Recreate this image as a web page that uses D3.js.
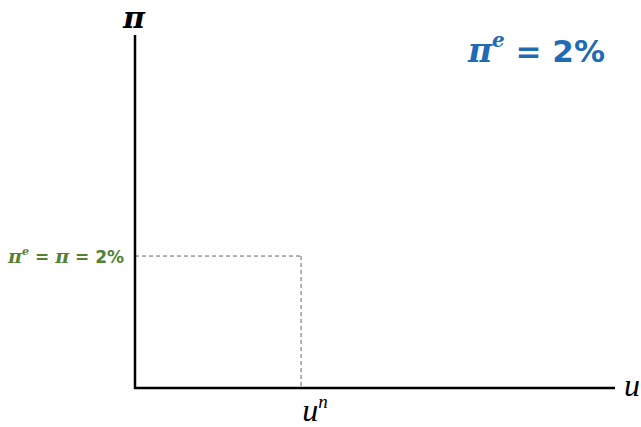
<!DOCTYPE html>
<html>
<head>
<meta charset="utf-8">
<script src="https://cdn.jsdelivr.net/npm/d3@7"></script>
<style>
body { margin: 0; background: #fff; }
</style>
</head>
<body>
<script>
// values
var uDomain = [0, 14.45];
var piDomain = [0, 5.35];
var naturalRate = [5];
var expectedInflation = [2];

var margin = {top: 35, right: 26, bottom: 39, left: 135};
var width = 641 - margin.left - margin.right;
var height = 427 - margin.top - margin.bottom;

var xScale = d3.scaleLinear().domain(uDomain).range([0, width]);
var yScale = d3.scaleLinear().domain(piDomain).range([height, 0]);

var svg = d3.select("body").append("svg")
.attr("width", 641)
.attr("height", 427);

var g = svg.append("g")
.attr("transform", "translate(" + margin.left + "," + margin.top + ")");

var mathFont = "'DejaVu Serif', serif";
var labelFont = "'Liberation Serif', 'DejaVu Serif', serif";

// dashed guides
g.append("line")
.attr("x1", xScale(0)).attr("x2", xScale(naturalRate[0]))
.attr("y1", yScale(expectedInflation[0])).attr("y2", yScale(expectedInflation[0]))
.attr("stroke", "#666").attr("stroke-width", 1).attr("stroke-dasharray", "4,3");
g.append("line")
.attr("x1", xScale(naturalRate[0])).attr("x2", xScale(naturalRate[0]))
.attr("y1", yScale(expectedInflation[0])).attr("y2", yScale(0))
.attr("stroke", "#666").attr("stroke-width", 1).attr("stroke-dasharray", "4,3");

// axes
g.append("line")
.attr("x1", xScale(0)).attr("x2", xScale(0))
.attr("y1", yScale(piDomain[1])).attr("y2", yScale(0) + 1)
.attr("stroke", "#000").attr("stroke-width", 2.5);
g.append("line")
.attr("x1", xScale(0) - 1).attr("x2", xScale(uDomain[1]))
.attr("y1", yScale(0)).attr("y2", yScale(0))
.attr("stroke", "#000").attr("stroke-width", 2.5);

// axis labels
svg.append("text")
.attr("x", margin.left - 1).attr("y", 28)
.attr("text-anchor", "middle")
.attr("font-family", mathFont).attr("font-size", 30)
.attr("font-weight", "bold").attr("font-style", "italic")
.text("π");

svg.append("text")
.attr("x", margin.left + width + 9).attr("y", margin.top + height + 8)
.attr("font-family", labelFont).attr("font-size", 32)
.attr("font-style", "italic")
.text("u");

var un = svg.append("text")
.attr("x", margin.left + xScale(naturalRate[0]) + 14).attr("y", margin.top + height + 33)
.attr("text-anchor", "middle")
.attr("font-family", labelFont).attr("font-size", 32)
.attr("font-style", "italic");
un.append("tspan").text("u");
un.append("tspan").attr("font-size", 19).attr("dy", -13).text("n");

// expected inflation title
var title = svg.append("text")
.attr("x", 605).attr("y", 62)
.attr("text-anchor", "end")
.attr("font-family", "'DejaVu Sans', sans-serif").attr("font-size", 31)
.attr("font-weight", "bold")
.attr("fill", "#1f6cb4")
.attr("xml:space", "preserve");
title.append("tspan").attr("font-family", mathFont).attr("font-style", "italic").attr("font-size", 33).text("π");
title.append("tspan").attr("font-family", mathFont).attr("font-style", "italic")
.attr("font-size", 20).attr("dy", -15).text("e");
title.append("tspan").attr("dy", 15).text(" = 2%");

// value label on the y axis
var lab = svg.append("text")
.attr("x", 124).attr("y", margin.top + yScale(expectedInflation[0]) + 7)
.attr("text-anchor", "end")
.attr("font-family", "'DejaVu Sans', sans-serif").attr("font-size", 17)
.attr("font-weight", "bold")
.attr("fill", "#548235")
.attr("xml:space", "preserve");
lab.append("tspan").attr("font-family", mathFont).attr("font-style", "italic").attr("font-size", 19).text("π");
lab.append("tspan").attr("font-family", mathFont).attr("font-style", "italic")
.attr("font-size", 11).attr("dy", -8).text("e");
lab.append("tspan").attr("dy", 8).text(" = ");
lab.append("tspan").attr("font-family", mathFont).attr("font-style", "italic").attr("font-size", 19).text("π");
lab.append("tspan").text(" = 2%");
</script>
</body>
</html>
